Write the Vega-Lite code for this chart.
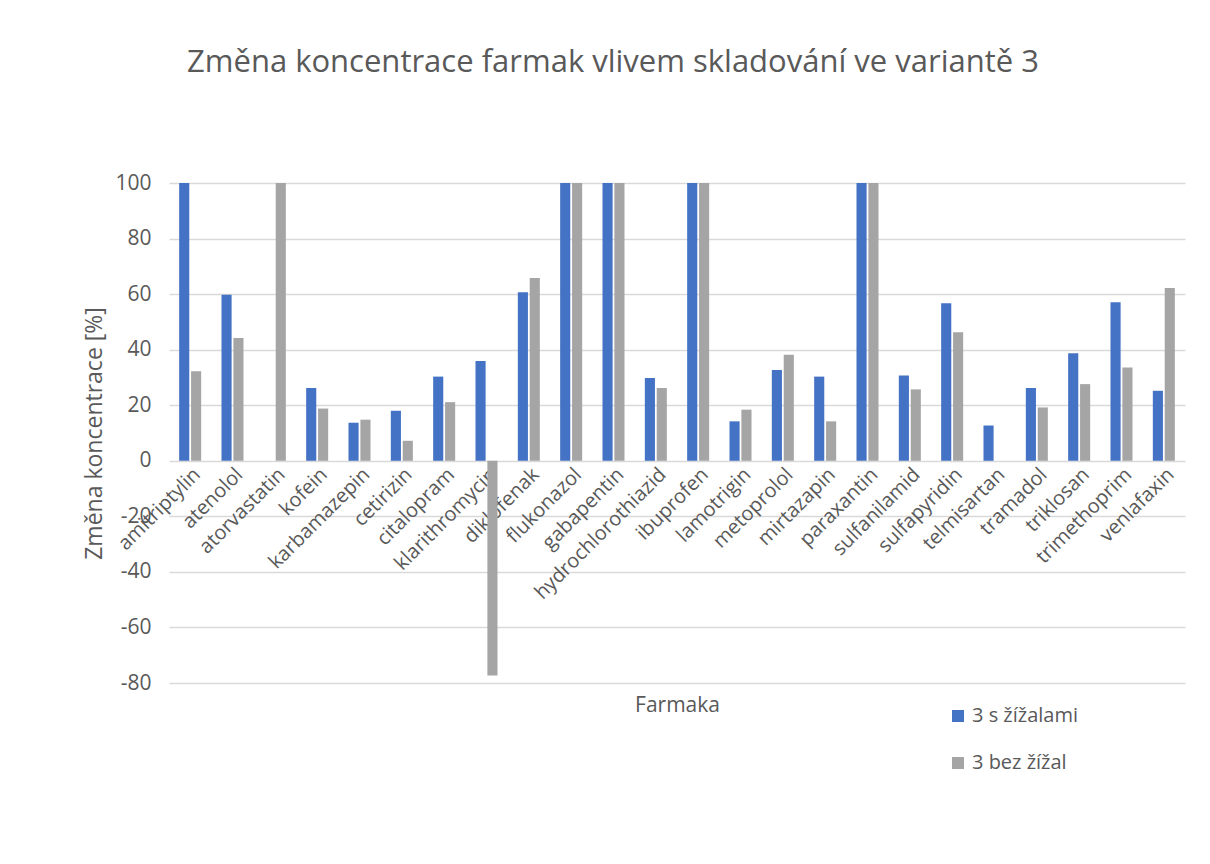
{
  "$schema": "https://vega.github.io/schema/vega-lite/v6.json",
  "width": 1016,
  "height": 500,
  "autosize": {"type": "none"},
  "padding": {"left": 169, "top": 183, "right": 25, "bottom": 181},
  "background": "white",
  "config": {"font": "Open Sans", "view": {"stroke": null}},
  "title": {"text": "Změna koncentrace  farmak vlivem skladování ve variantě 3", "fontSize": 31, "font": "Open Sans", "fontWeight": "normal", "color": "#595959", "anchor": "middle", "dx": -64, "offset": 93},
  "data": {"values": [
    {"farmakum": "amitriptylin", "serie": "3 s žížalami", "hodnota": 100},
    {"farmakum": "amitriptylin", "serie": "3 bez žížal", "hodnota": 32.2},
    {"farmakum": "atenolol", "serie": "3 s žížalami", "hodnota": 59.8},
    {"farmakum": "atenolol", "serie": "3 bez žížal", "hodnota": 44.2},
    {"farmakum": "atorvastatin", "serie": "3 s žížalami", "hodnota": 0},
    {"farmakum": "atorvastatin", "serie": "3 bez žížal", "hodnota": 100},
    {"farmakum": "kofein", "serie": "3 s žížalami", "hodnota": 26.2},
    {"farmakum": "kofein", "serie": "3 bez žížal", "hodnota": 18.8},
    {"farmakum": "karbamazepin", "serie": "3 s žížalami", "hodnota": 13.7},
    {"farmakum": "karbamazepin", "serie": "3 bez žížal", "hodnota": 14.8},
    {"farmakum": "cetirizin", "serie": "3 s žížalami", "hodnota": 18.0},
    {"farmakum": "cetirizin", "serie": "3 bez žížal", "hodnota": 7.2},
    {"farmakum": "citalopram", "serie": "3 s žížalami", "hodnota": 30.3},
    {"farmakum": "citalopram", "serie": "3 bez žížal", "hodnota": 21.1},
    {"farmakum": "klarithromycin", "serie": "3 s žížalami", "hodnota": 35.9},
    {"farmakum": "klarithromycin", "serie": "3 bez žížal", "hodnota": -77.3},
    {"farmakum": "diklofenak", "serie": "3 s žížalami", "hodnota": 60.7},
    {"farmakum": "diklofenak", "serie": "3 bez žížal", "hodnota": 65.8},
    {"farmakum": "flukonazol", "serie": "3 s žížalami", "hodnota": 100},
    {"farmakum": "flukonazol", "serie": "3 bez žížal", "hodnota": 100},
    {"farmakum": "gabapentin", "serie": "3 s žížalami", "hodnota": 100},
    {"farmakum": "gabapentin", "serie": "3 bez žížal", "hodnota": 100},
    {"farmakum": "hydrochlorothiazid", "serie": "3 s žížalami", "hodnota": 29.8},
    {"farmakum": "hydrochlorothiazid", "serie": "3 bez žížal", "hodnota": 26.2},
    {"farmakum": "ibuprofen", "serie": "3 s žížalami", "hodnota": 100},
    {"farmakum": "ibuprofen", "serie": "3 bez žížal", "hodnota": 100},
    {"farmakum": "lamotrigin", "serie": "3 s žížalami", "hodnota": 14.2},
    {"farmakum": "lamotrigin", "serie": "3 bez žížal", "hodnota": 18.4},
    {"farmakum": "metoprolol", "serie": "3 s žížalami", "hodnota": 32.7},
    {"farmakum": "metoprolol", "serie": "3 bez žížal", "hodnota": 38.2},
    {"farmakum": "mirtazapin", "serie": "3 s žížalami", "hodnota": 30.3},
    {"farmakum": "mirtazapin", "serie": "3 bez žížal", "hodnota": 14.2},
    {"farmakum": "paraxantin", "serie": "3 s žížalami", "hodnota": 100},
    {"farmakum": "paraxantin", "serie": "3 bez žížal", "hodnota": 100},
    {"farmakum": "sulfanilamid", "serie": "3 s žížalami", "hodnota": 30.7},
    {"farmakum": "sulfanilamid", "serie": "3 bez žížal", "hodnota": 25.7},
    {"farmakum": "sulfapyridin", "serie": "3 s žížalami", "hodnota": 56.7},
    {"farmakum": "sulfapyridin", "serie": "3 bez žížal", "hodnota": 46.3},
    {"farmakum": "telmisartan", "serie": "3 s žížalami", "hodnota": 12.7},
    {"farmakum": "telmisartan", "serie": "3 bez žížal", "hodnota": 0},
    {"farmakum": "tramadol", "serie": "3 s žížalami", "hodnota": 26.2},
    {"farmakum": "tramadol", "serie": "3 bez žížal", "hodnota": 19.2},
    {"farmakum": "triklosan", "serie": "3 s žížalami", "hodnota": 38.7},
    {"farmakum": "triklosan", "serie": "3 bez žížal", "hodnota": 27.6},
    {"farmakum": "trimethoprim", "serie": "3 s žížalami", "hodnota": 57.1},
    {"farmakum": "trimethoprim", "serie": "3 bez žížal", "hodnota": 33.6},
    {"farmakum": "venlafaxin", "serie": "3 s žížalami", "hodnota": 25.2},
    {"farmakum": "venlafaxin", "serie": "3 bez žížal", "hodnota": 62.2}
  ]},
  "mark": {"type": "bar"},
  "encoding": {
    "x": {
      "field": "farmakum", "type": "nominal", "sort": null,
      "scale": {"paddingInner": 0.48, "paddingOuter": 0.24},
      "axis": {
        "offset": -222, "domain": false, "ticks": false, "grid": false,
        "labelAngle": -45, "labelFontSize": 20, "labelColor": "#595959", "labelPadding": 3,
        "title": "Farmaka", "titleFontSize": 21, "titleFontWeight": "normal", "titleColor": "#595959",
        "titleY": 244, "titleBaseline": "middle"
      }
    },
    "xOffset": {"field": "serie", "sort": ["3 s žížalami", "3 bez žížal"], "scale": {"paddingInner": 0.15}},
    "y": {
      "field": "hodnota", "type": "quantitative",
      "scale": {"domain": [-80, 100], "nice": false},
      "axis": {
        "values": [-80, -60, -40, -20, 0, 20, 40, 60, 80, 100],
        "labelExpr": "'' + datum.value",
        "grid": true, "gridColor": "#d9d9d9", "gridWidth": 1.3,
        "domain": false, "ticks": false,
        "labelFontSize": 21, "labelColor": "#595959", "labelPadding": 18,
        "title": "Změna koncentrace [%]", "titleFontSize": 23, "titleFontWeight": "normal", "titleColor": "#595959", "titlePadding": 8
      }
    },
    "color": {
      "field": "serie", "type": "nominal", "sort": ["3 s žížalami", "3 bez žížal"],
      "scale": {"range": ["#4472C4", "#A5A5A5"]},
      "legend": {
        "orient": "none", "legendX": 779, "legendY": 523, "direction": "vertical", "title": null,
        "symbolType": "square", "symbolSize": 144, "symbolStrokeWidth": 0,
        "labelFontSize": 20, "labelColor": "#595959", "labelOffset": 4, "rowPadding": 27
      }
    }
  }
}
